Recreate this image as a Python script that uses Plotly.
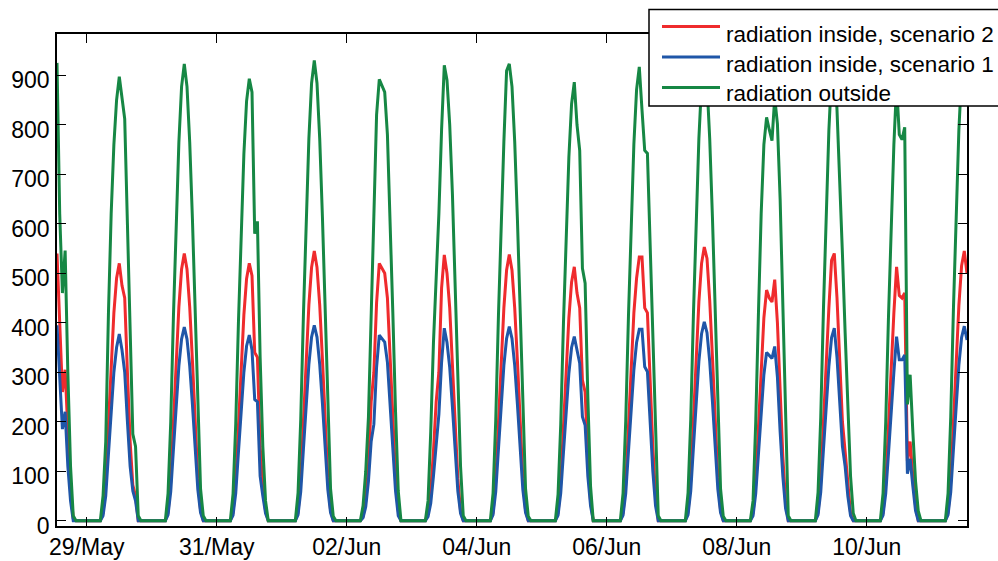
import pandas as pd
import plotly.graph_objects as go

# Hourly solar radiation (W/m2). Daylight hours are listed; all other hours are zero.
START = "2012-05-28 13:00"
END = "2012-06-11 13:00"

# 28 May, 13:00-19:00
outside_first = [925, 620, 460, 546, 300, 110, 10]
scen2_first = [540, 380, 260, 305, 170, 60, 5]
scen1_first = [395, 280, 185, 220, 110, 40, 0]

# 29 May - 10 Jun, 05:00-19:00 for each day
full_days = pd.date_range("2012-05-29", "2012-06-10", freq="D")
outside_days = [
    [0, 50, 160, 420, 620, 760, 850, 897, 855, 812, 600, 390, 175, 150, 10],
    [0, 55, 200, 415, 610, 765, 877, 923, 877, 765, 610, 415, 220, 65, 10],
    [0, 54, 196, 402, 590, 741, 848, 893, 866, 580, 605, 330, 150, 40, 0],
    [0, 56, 205, 418, 614, 772, 884, 930, 884, 772, 614, 418, 223, 65, 9],
    [0, 30, 100, 210, 400, 640, 820, 892, 878, 866, 780, 620, 420, 220, 60],
    [0, 40, 180, 360, 490, 620, 790, 920, 890, 800, 660, 470, 280, 110, 10],
    [0, 55, 203, 415, 609, 766, 909, 923, 877, 766, 609, 415, 221, 65, 9],
    [0, 53, 195, 399, 585, 735, 842, 886, 800, 748, 510, 480, 250, 70, 0],
    [0, 55, 202, 413, 605, 761, 871, 917, 830, 748, 742, 560, 370, 180, 10],
    [0, 56, 205, 419, 614, 772, 884, 930, 884, 772, 614, 419, 223, 65, 9],
    [0, 40, 200, 420, 620, 760, 815, 790, 768, 855, 802, 650, 430, 210, 10],
    [0, 57, 209, 428, 627, 789, 903, 950, 830, 700, 540, 380, 220, 90, 15],
    [0, 55, 200, 410, 600, 760, 880, 780, 770, 795, 235, 295, 180, 80, 20],
]
scen2_days = [
    [0, 15, 75, 195, 315, 420, 490, 520, 475, 450, 300, 160, 72, 50, 0],
    [0, 16, 80, 200, 324, 432, 508, 540, 508, 432, 324, 200, 86, 22, 0],
    [0, 16, 78, 192, 312, 416, 489, 520, 495, 340, 330, 150, 70, 20, 0],
    [0, 16, 82, 202, 327, 436, 512, 545, 512, 436, 327, 202, 87, 22, 0],
    [0, 8, 40, 110, 240, 300, 440, 520, 510, 500, 450, 330, 200, 90, 20],
    [0, 15, 60, 140, 240, 300, 470, 537, 500, 430, 320, 200, 85, 20, 0],
    [0, 16, 81, 199, 323, 430, 506, 538, 506, 430, 323, 199, 86, 22, 0],
    [0, 15, 77, 190, 308, 410, 482, 513, 460, 430, 284, 260, 130, 40, 0],
    [0, 15, 75, 190, 315, 420, 490, 533, 533, 430, 420, 280, 150, 50, 0],
    [0, 17, 83, 205, 332, 442, 520, 553, 530, 445, 332, 205, 88, 22, 0],
    [0, 15, 75, 190, 310, 410, 466, 450, 442, 487, 400, 250, 130, 40, 0],
    [0, 16, 80, 200, 325, 430, 526, 540, 450, 320, 200, 140, 70, 15, 0],
    [0, 15, 75, 190, 310, 420, 513, 455, 450, 460, 120, 160, 90, 30, 0],
]
scen1_days = [
    [0, 10, 50, 135, 225, 300, 350, 377, 345, 300, 200, 110, 60, 40, 0],
    [0, 12, 59, 145, 235, 313, 367, 391, 367, 313, 235, 145, 63, 16, 0],
    [0, 11, 56, 139, 225, 300, 353, 375, 345, 245, 240, 90, 50, 15, 0],
    [0, 12, 59, 146, 237, 316, 371, 395, 371, 316, 237, 146, 63, 16, 0],
    [0, 6, 28, 80, 160, 195, 310, 375, 368, 361, 320, 230, 140, 60, 10],
    [0, 8, 35, 90, 160, 215, 320, 389, 360, 310, 230, 140, 60, 15, 0],
    [0, 12, 59, 145, 235, 314, 368, 392, 368, 314, 235, 145, 63, 16, 0],
    [0, 11, 56, 138, 223, 298, 350, 372, 345, 318, 210, 193, 90, 30, 0],
    [0, 11, 55, 140, 230, 305, 360, 387, 387, 311, 301, 200, 100, 30, 0],
    [0, 12, 60, 149, 241, 322, 378, 402, 380, 322, 241, 149, 64, 16, 0],
    [0, 10, 55, 135, 220, 295, 340, 333, 328, 352, 290, 180, 90, 25, 0],
    [0, 12, 58, 144, 234, 312, 370, 389, 330, 240, 150, 110, 50, 10, 0],
    [0, 11, 55, 135, 225, 300, 372, 325, 325, 335, 95, 125, 70, 20, 0],
]

# 11 Jun, 05:00-13:00
outside_last = [0, 55, 210, 430, 630, 790, 900, 940, 910]
scen2_last = [0, 16, 80, 200, 325, 435, 515, 545, 500]
scen1_last = [0, 12, 58, 145, 236, 315, 370, 393, 365]

series_names = ["radiation inside, scenario 2", "radiation inside, scenario 1", "radiation outside"]
series_colors = ["#ef2b2d", "#1f56a8", "#168744"]

tick_dates = pd.date_range("2012-05-29", "2012-06-10", freq="2D")
y_ticks = list(range(0, 1000, 100))

index = pd.date_range(START, END, freq="h")


def build(first, days, last):
    s = pd.Series(0.0, index=index)
    t0 = pd.Timestamp(START)
    for i, v in enumerate(first):
        s[t0 + pd.Timedelta(hours=i)] = v
    for day, vals in zip(full_days, days):
        for i, v in enumerate(vals):
            s[day + pd.Timedelta(hours=5 + i)] = v
    d_last = pd.Timestamp("2012-06-11")
    for i, v in enumerate(last):
        s[d_last + pd.Timedelta(hours=5 + i)] = v
    return s


series = [
    build(scen2_first, scen2_days, scen2_last),
    build(scen1_first, scen1_days, scen1_last),
    build(outside_first, outside_days, outside_last),
]

# Page geometry (pixels): plot area spans x 57..967, y 34..526
W, H = 998, 561
L, R, T, B = 57, 31, 34, 35
PW, PH = W - L - R, H - T - B


def px(x):
    return (x - L) / PW


def py(y):
    return (H - B - y) / PH


font = dict(family="Liberation Sans, Arial, sans-serif", size=23, color="black")
legend_font = dict(family="Liberation Sans, Arial, sans-serif", size=22.5, color="black")

fig = go.Figure()
for name, color, s in zip(series_names, series_colors, series):
    fig.add_trace(go.Scatter(
        x=s.index, y=s.values, mode="lines", name=name,
        line=dict(color=color, width=3), showlegend=False,
    ))

# Legend box in the top-right corner, drawn over the curves
shapes = [dict(
    type="rect", xref="paper", yref="paper", layer="above",
    x0=px(649), x1=px(1030), y0=py(106), y1=py(9.5),
    fillcolor="white", line=dict(color="black", width=1.5),
)]
annotations = []
row_line_y = [26.5, 57.0, 87.5]
row_text_y = [34.5, 64.0, 93.5]
for name, color, ly, ty in zip(series_names, series_colors, row_line_y, row_text_y):
    shapes.append(dict(
        type="line", xref="paper", yref="paper", layer="above",
        x0=px(662), x1=px(720), y0=py(ly), y1=py(ly),
        line=dict(color=color, width=3),
    ))
    annotations.append(dict(
        text=name, xref="paper", yref="paper", x=px(724), y=py(ty),
        xanchor="left", yanchor="middle", showarrow=False, font=legend_font,
    ))

fig.update_layout(
    width=W, height=H,
    margin=dict(l=L, r=R, t=T, b=B, autoexpand=False),
    paper_bgcolor="white", plot_bgcolor="white",
    font=font, showlegend=False,
    shapes=shapes, annotations=annotations,
)
fig.update_xaxes(
    type="date", range=[START, END],
    tickvals=tick_dates, tickformat="%d/%b",
    ticks="inside", ticklen=9, tickwidth=1.2, tickcolor="black",
    showline=True, linecolor="black", linewidth=1.5, mirror="ticks",
    showgrid=False, zeroline=False,
)
fig.update_yaxes(
    range=[-10.7, 983.4], tickvals=y_ticks,
    ticks="inside", ticklen=9, tickwidth=1.2, tickcolor="black",
    showline=True, linecolor="black", linewidth=1.5, mirror="ticks",
    showgrid=False, zeroline=False,
    ticklabelstandoff=1, ticklabelshift=5,
)

fig.write_html("out.html")
